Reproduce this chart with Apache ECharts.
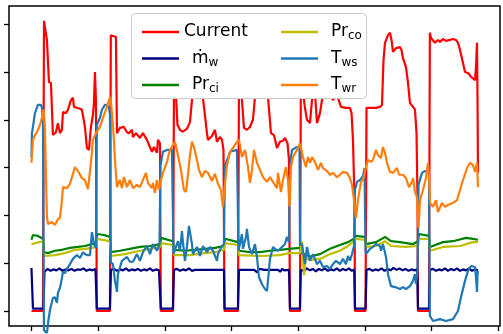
<!DOCTYPE html>
<html lang="en">
<head>
<meta charset="utf-8">
<title>chiller signals</title>
<script src="https://cdn.jsdelivr.net/npm/echarts@6/dist/echarts.min.js"></script>
<style>
  html, body { margin: 0; padding: 0; background: #fff; }
  #chart { width: 503px; height: 334px; }
</style>
</head>
<body>
<div id="chart"></div>
<script>
// tick positions (labels are cut off in the original)
var xTicks = [0, 1000, 2000, 3000, 4000, 5000, 6000, 7000];
var yTicks = [0, 1, 2, 3, 4, 5, 6];

// [sample, value] pairs
var currentData = [
  [0,0],[172,0],[188,6.07],[210,6.07],[232,5.67],[262,4.79],[292,4.77],[322,3.68],[367,3.74],[397,3.93],[427,3.72],[457,3.79],[472,4.16],[517,4.14],[547,4.21],[592,4.41],[622,4.46],[637,4.27],[682,4.25],[727,4.23],[757,4.21],[802,3.85],[832,3.41],[862,3.37],[892,3.85],[922,4.10],[937,4.35],[952,5.00],[967,4.41],[980,0],
  [1177,0],[1190,5.77],[1267,5.73],[1282,3.72],[1327,3.83],[1387,3.85],[1432,3.74],[1462,3.72],[1507,3.79],[1522,3.64],[1567,3.72],[1627,3.62],[1672,3.72],[1732,3.58],[1777,3.43],[1807,3.33],[1837,3.43],[1882,3.31],[1897,3.58],[1927,3.51],[1940,0],
  [2122,0],[2137,4.62],[2167,4.52],[2190,3.89],[2227,3.79],[2272,3.75],[2332,3.81],[2377,3.95],[2407,4.41],[2437,4.83],[2527,4.94],[2572,4.46],[2632,3.72],[2647,3.58],[2707,3.66],[2752,3.79],[2782,3.54],[2827,3.64],[2857,3.58],[2880,3.37],[2895,0],
  [3097,0],[3112,4.73],[3157,4.41],[3187,3.83],[3232,3.79],[3277,3.85],[3322,4.00],[3352,4.48],[3397,4.83],[3502,4.83],[3547,4.48],[3592,3.72],[3637,3.68],[3682,3.41],[3727,3.54],[3772,3.56],[3802,3.62],[3840,3.51],[3862,3.16],[3877,0],
  [4027,0],[4040,4.73],[4072,4.58],[4102,4.25],[4132,4.00],[4177,3.93],[4207,4.41],[4252,4.56],[4282,3.93],[4327,4.14],[4357,4.41],[4417,4.66],[4477,4.62],[4522,4.41],[4567,4.52],[4597,4.46],[4642,4.27],[4717,4.25],[4777,4.25],[4800,4.14],[4822,3.58],[4845,2.32],[4852,0],
  [5010,0],[5025,4.25],[5047,4.29],[5107,4.25],[5167,4.25],[5227,4.27],[5257,4.31],[5280,5.25],[5302,5.61],[5347,5.77],[5377,5.82],[5400,5.67],[5422,5.42],[5467,5.50],[5527,5.52],[5550,5.46],[5572,5.29],[5617,5.10],[5647,4.77],[5677,4.35],[5722,4.27],[5752,4.21],[5775,3.72],[5790,2.32],[5797,0],
  [5962,0],[5975,5.82],[5992,5.71],[6052,5.61],[6097,5.67],[6127,5.63],[6172,5.69],[6217,5.65],[6277,5.67],[6322,5.69],[6367,5.67],[6397,5.61],[6427,5.46],[6472,5.19],[6502,5.00],[6547,4.98],[6592,4.90],[6652,4.83],[6667,5.10],[6682,5.61],[6690,4.41],[6697,2.89]
];

var massFlowData = [
  [0,0.90],[15,0.86],[22,0.05],[180,0.05],[195,0.82],
  [240,0.88],[285,0.84],[330,0.87],[375,0.85],[420,0.89],[465,0.84],[510,0.87],[555,0.85],[600,0.88],[645,0.84],[690,0.87],[735,0.86],[780,0.89],[825,0.84],[870,0.87],[915,0.85],[960,0.88],[972,0.86],
  [980,0.05],[1177,0.05],[1192,0.86],
  [1237,0.88],[1282,0.84],[1327,0.87],[1372,0.85],[1417,0.89],[1462,0.84],[1507,0.87],[1552,0.85],[1597,0.88],[1642,0.84],[1687,0.87],[1732,0.85],[1777,0.89],[1822,0.84],[1867,0.87],[1912,0.85],[1930,0.86],
  [1940,0.05],[2122,0.05],[2137,0.86],
  [2182,0.88],[2227,0.84],[2272,0.87],[2317,0.85],[2362,0.89],[2407,0.84],[2452,0.86],[2500,0.86],[2780,0.86],[2800,0.82],[2820,0.86],[2887,0.86],
  [2895,0.05],[3097,0.05],[3112,0.86],
  [3340,0.86],[3360,0.90],[3385,0.81],[3410,0.88],[3435,0.84],[3460,0.87],[3490,0.86],[3700,0.86],[3730,0.82],[3760,0.88],[3790,0.85],[3862,0.86],
  [3877,0.05],[4027,0.05],[4040,0.86],
  [4085,0.84],[4130,0.89],[4175,0.85],[4220,0.88],[4265,0.83],[4310,0.88],[4355,0.85],[4400,0.89],[4445,0.84],[4490,0.87],[4535,0.85],[4580,0.89],[4625,0.84],[4670,0.88],[4715,0.85],[4760,0.89],[4805,0.84],[4840,0.87],
  [4852,0.05],[5010,0.05],[5025,0.86],
  [5070,0.88],[5115,0.84],[5160,0.87],[5205,0.85],[5250,0.89],[5295,0.84],[5340,0.88],[5385,0.85],[5430,0.90],[5475,0.86],[5520,0.89],[5565,0.85],[5610,0.88],[5655,0.84],[5700,0.87],[5745,0.85],[5785,0.87],
  [5797,0.05],[5962,0.05],[5977,0.86],
  [6022,0.88],[6067,0.84],[6112,0.87],[6157,0.85],[6202,0.89],[6247,0.84],[6292,0.88],[6337,0.85],[6382,0.89],[6427,0.84],[6472,0.87],[6517,0.85],[6562,0.89],[6607,0.84],[6652,0.87],[6697,0.85]
];

var prCiData = [
  [0,1.49],[22,1.59],[97,1.57],[172,1.51],[187,1.23],[247,1.21],[352,1.26],[457,1.28],[577,1.32],[697,1.34],[802,1.36],[907,1.40],[967,1.42],
  [982,1.61],[1087,1.59],[1177,1.55],[1192,1.23],[1327,1.26],[1477,1.30],[1627,1.34],[1777,1.36],[1927,1.40],
  [1942,1.53],[2122,1.46],[2137,1.28],[2302,1.26],[2452,1.28],[2602,1.30],[2752,1.32],[2887,1.36],
  [2902,1.51],[3097,1.44],[3112,1.26],[3277,1.23],[3427,1.23],[3577,1.26],[3727,1.28],[3862,1.30],
  [3877,1.34],[4027,1.32],[4042,1.21],[4177,1.14],[4327,1.19],[4477,1.30],[4627,1.38],[4747,1.44],[4837,1.51],
  [4852,1.57],[5002,1.55],[5017,1.40],[5167,1.44],[5257,1.51],[5302,1.55],[5392,1.46],[5527,1.44],[5722,1.40],[5797,1.46],
  [5812,1.61],[5962,1.57],[5977,1.34],[6172,1.44],[6322,1.46],[6517,1.53],[6622,1.51],[6697,1.49]
];

var prCoData = [
  [0,1.40],[22,1.44],[172,1.46],[187,1.15],[352,1.17],[502,1.21],[652,1.28],[802,1.30],[907,1.32],[967,1.34],
  [982,1.51],[1177,1.46],[1192,1.15],[1402,1.19],[1627,1.26],[1777,1.30],[1927,1.34],
  [1942,1.42],[2122,1.38],[2137,1.17],[2377,1.17],[2602,1.21],[2752,1.23],[2887,1.28],
  [2902,1.42],[3097,1.38],[3112,1.17],[3427,1.15],[3727,1.17],[3862,1.21],
  [4027,1.21],[4057,1.46],[4087,0.75],[4117,1.11],[4177,1.07],[4327,1.09],[4477,1.19],[4627,1.26],[4747,1.36],[4837,1.46],
  [4852,1.51],[5002,1.49],[5017,1.34],[5167,1.36],[5302,1.46],[5392,1.36],[5617,1.34],[5797,1.36],
  [5812,1.51],[5962,1.51],[5977,1.26],[6172,1.34],[6427,1.36],[6622,1.44],[6697,1.44]
];

var tWsData = [
  [0,3.22],[7,3.72],[22,3.85],[52,4.14],[97,4.31],[142,4.31],[157,4.25],[172,4.00],[187,-0.40],[232,-0.46],[255,-0.19],[277,0.02],[322,0.27],[352,0.29],[382,0.17],[397,0.38],[427,0.48],[457,0.69],[472,0.82],[502,0.79],[532,0.88],[577,0.98],[622,1.09],[682,1.17],[727,1.11],[772,1.23],[802,1.19],[832,1.17],[877,1.17],[907,1.65],[937,1.40],[967,1.32],
  [980,3.89],[1027,4.04],[1057,4.21],[1102,4.31],[1132,4.31],[1162,4.27],[1177,4.10],
  [1190,1.02],[1222,0.98],[1252,0.63],[1282,0.40],[1297,0.77],[1357,1.05],[1432,1.13],[1477,1.03],[1522,1.03],[1582,1.19],[1627,1.05],[1672,1.23],[1732,1.36],[1777,1.19],[1822,1.40],[1882,1.26],[1920,1.38],
  [1935,3.05],[1972,3.33],[2032,3.37],[2107,3.37],[2122,3.33],
  [2130,1.19],[2152,1.19],[2197,1.46],[2227,1.26],[2257,1.67],[2272,1.44],[2302,1.05],[2332,1.34],[2362,1.78],[2407,1.40],[2422,1.19],[2482,1.34],[2527,1.15],[2572,1.36],[2632,1.23],[2677,1.34],[2722,1.26],[2782,1.05],[2797,1.19],[2857,1.36],[2887,1.40],
  [2902,3.05],[2947,3.20],[2977,3.33],[3082,3.37],[3097,3.33],
  [3105,1.26],[3127,1.26],[3157,1.61],[3172,1.30],[3217,1.55],[3232,1.72],[3262,1.34],[3307,1.19],[3352,1.40],[3382,1.13],[3412,0.71],[3457,0.56],[3502,0.46],[3532,0.42],[3547,0.63],[3577,1.09],[3622,1.34],[3652,1.30],[3697,1.26],[3757,1.34],[3802,1.40],[3832,1.55],[3862,1.44],
  [3877,3.05],[3907,3.37],[3982,3.43],[4020,3.41],
  [4027,1.40],[4057,1.40],[4102,0.98],[4132,1.34],[4177,1.05],[4222,1.19],[4282,0.98],[4327,1.05],[4372,0.92],[4432,0.94],[4477,0.88],[4522,0.98],[4567,1.05],[4627,0.98],[4672,1.09],[4717,0.98],[4747,1.15],[4777,1.05],[4807,1.19],[4837,1.36],
  [4852,2.53],[4882,2.70],[4927,2.74],[4972,2.82],[4995,2.99],
  [5010,1.28],[5017,1.19],[5077,1.30],[5122,1.34],[5167,1.40],[5227,1.36],[5242,1.26],[5272,1.40],[5317,1.13],[5347,0.77],[5392,0.52],[5452,0.50],[5527,0.46],[5572,0.50],[5617,0.46],[5677,0.52],[5722,0.63],[5752,0.77],[5767,0.56],[5790,0.86],
  [5805,2.64],[5857,2.89],[5902,2.93],[5947,2.91],[5962,2.85],
  [5975,-0.10],[6022,-0.21],[6127,-0.17],[6217,-0.21],[6322,-0.17],[6397,0.00],[6442,0.29],[6502,0.63],[6547,0.84],[6592,0.94],[6652,0.92],[6667,0.71],[6682,0.40],[6690,0.77],[6697,0.84]
];

var tWrData = [
  [0,3.10],[22,3.58],[52,3.68],[82,3.74],[127,3.89],[157,4.04],[172,4.21],[187,4.16],[202,3.79],[217,2.85],[232,1.97],[247,1.82],[307,1.86],[352,1.80],[397,1.92],[427,1.95],[457,2.32],[472,2.59],[532,2.57],[577,2.66],[622,2.87],[652,3.01],[697,2.93],[757,2.78],[802,2.74],[847,2.55],[877,2.91],[907,3.33],[922,3.58],[967,3.72],
  [1027,3.85],[1072,4.04],[1132,4.27],[1162,4.41],[1185,4.48],[1207,4.14],[1237,3.58],[1252,3.16],[1282,2.59],[1327,2.74],[1357,2.57],[1387,2.80],[1432,2.59],[1477,2.74],[1522,2.57],[1582,2.64],[1627,2.59],[1672,2.74],[1717,2.89],[1747,2.68],[1807,2.57],[1822,2.68],[1852,2.47],[1882,2.74],[1912,2.53],[1942,2.74],
  [1972,2.89],[2032,3.12],[2077,3.37],[2122,3.47],[2152,3.54],[2197,3.26],[2242,2.95],[2287,2.53],[2317,2.49],[2347,2.85],[2377,3.26],[2407,3.54],[2437,3.43],[2482,3.16],[2512,2.95],[2557,2.80],[2602,2.93],[2647,2.89],[2707,2.72],[2752,2.87],[2797,2.66],[2842,2.53],[2872,2.18],[2902,2.66],
  [2932,3.05],[2977,3.33],[3022,3.41],[3082,3.54],[3112,3.58],[3157,3.22],[3202,3.37],[3247,3.01],[3277,2.68],[3307,2.95],[3337,3.37],[3382,3.10],[3427,2.95],[3472,2.80],[3532,2.70],[3577,2.80],[3622,2.70],[3682,2.57],[3697,2.89],[3742,2.49],[3772,2.74],[3817,3.01],[3847,2.74],[3870,2.18],
  [3892,3.01],[3922,3.22],[3982,3.37],[4027,3.51],[4072,3.22],[4117,3.01],[4147,3.22],[4177,3.10],[4207,3.22],[4252,3.12],[4297,2.95],[4342,3.10],[4372,2.99],[4432,2.93],[4477,2.85],[4522,2.89],[4582,2.80],[4627,2.85],[4672,2.91],[4732,2.89],[4777,2.78],[4807,2.64],[4837,2.32],[4867,1.95],
  [4897,2.32],[4942,2.70],[4972,2.74],[5017,3.01],[5047,3.16],[5092,3.12],[5122,3.16],[5167,3.37],[5197,3.26],[5242,3.20],[5272,3.43],[5302,3.31],[5332,3.10],[5377,2.91],[5422,2.89],[5482,2.99],[5512,2.85],[5572,2.85],[5617,2.78],[5662,2.59],[5707,2.70],[5722,2.78],[5752,2.49],[5782,2.38],[5805,1.74],
  [5827,2.32],[5872,2.53],[5917,2.78],[5947,3.10],[5962,2.85],[5977,2.26],[6022,2.18],[6067,2.32],[6097,2.07],[6157,2.26],[6202,2.18],[6247,2.22],[6322,2.26],[6382,2.32],[6427,2.53],[6472,2.74],[6532,2.99],[6577,3.10],[6622,3.05],[6652,2.91],[6682,3.10],[6697,2.59]
];

var seriesNames = ['Current', 'm_w', 'Pr_ci', 'Pr_co', 'T_ws', 'T_wr'];
var seriesColors = ['#ff0000', '#000080', '#008000', '#bfbf00', '#1f77b4', '#ff7f0e'];
var seriesData = [currentData, massFlowData, prCiData, prCoData, tWsData, tWrData];

var legendText = {
    'Current': 'Current',
    'm_w': '{b|ṁ}{s|w}',
    'Pr_ci': '{b|Pr}{s|ci}',
    'Pr_co': '{b|Pr}{s|co}',
    'T_ws': '{b|T}{s|ws}',
    'T_wr': '{b|T}{s|wr}'
};

var chart = echarts.init(document.getElementById('chart'), null, { renderer: 'canvas' });

function makeLegend(names, left) {
    return {
        data: names,
        orient: 'vertical',
        left: left,
        top: 17,
        itemWidth: 37,
        itemHeight: 2.5,
        itemGap: 6.5,
        icon: 'rect',
        selectedMode: false,
        z: 20,
        formatter: function (name) { return legendText[name]; },
        textStyle: {
            fontFamily: 'DejaVu Sans',
            fontSize: 17,
            lineHeight: 20,
            color: '#000',
            rich: {
                b: { fontFamily: 'DejaVu Sans', fontSize: 17, lineHeight: 20, color: '#000', padding: [0, 0, 0, 8] },
                s: { fontFamily: 'DejaVu Sans', fontSize: 12, lineHeight: 20, color: '#000', verticalAlign: 'bottom' }
            }
        }
    };
}

var series = seriesNames.map(function (name, i) {
    return {
        name: name,
        type: 'line',
        data: seriesData[i],
        color: seriesColors[i],
        showSymbol: false,
        symbol: 'none',
        clip: name !== 'T_ws',
        lineStyle: { width: 2.2, color: seriesColors[i] },
        emphasis: { disabled: true }
    };
});

chart.setOption({
    animation: false,
    grid: {
        left: 9, right: 3, top: 6, bottom: 8,
        show: true,
        borderColor: '#000',
        borderWidth: 1.5,
        backgroundColor: 'transparent'
    },
    xAxis: {
        type: 'value',
        min: -337,
        max: 7027,
        axisLine: { show: false, onZero: false },
        axisTick: { show: true, customValues: xTicks, length: 5, lineStyle: { color: '#000', width: 1.3 } },
        axisLabel: { show: false },
        splitLine: { show: false }
    },
    yAxis: {
        type: 'value',
        min: -0.314,
        max: 6.38,
        axisLine: { show: false, onZero: false },
        axisTick: { show: true, customValues: yTicks, length: 5, lineStyle: { color: '#000', width: 1.3 } },
        axisLabel: { show: false },
        splitLine: { show: false }
    },
    graphic: {
        elements: [{
            type: 'rect',
            z: 15,
            shape: { x: 131.5, y: 13.5, width: 235, height: 85, r: 4 },
            style: { fill: '#fff', stroke: '#cccccc', lineWidth: 1 }
        }]
    },
    legend: [
        makeLegend(['Current', 'm_w', 'Pr_ci'], 137),
        makeLegend(['Pr_co', 'T_ws', 'T_wr'], 276)
    ],
    series: series
});
</script>
</body>
</html>
